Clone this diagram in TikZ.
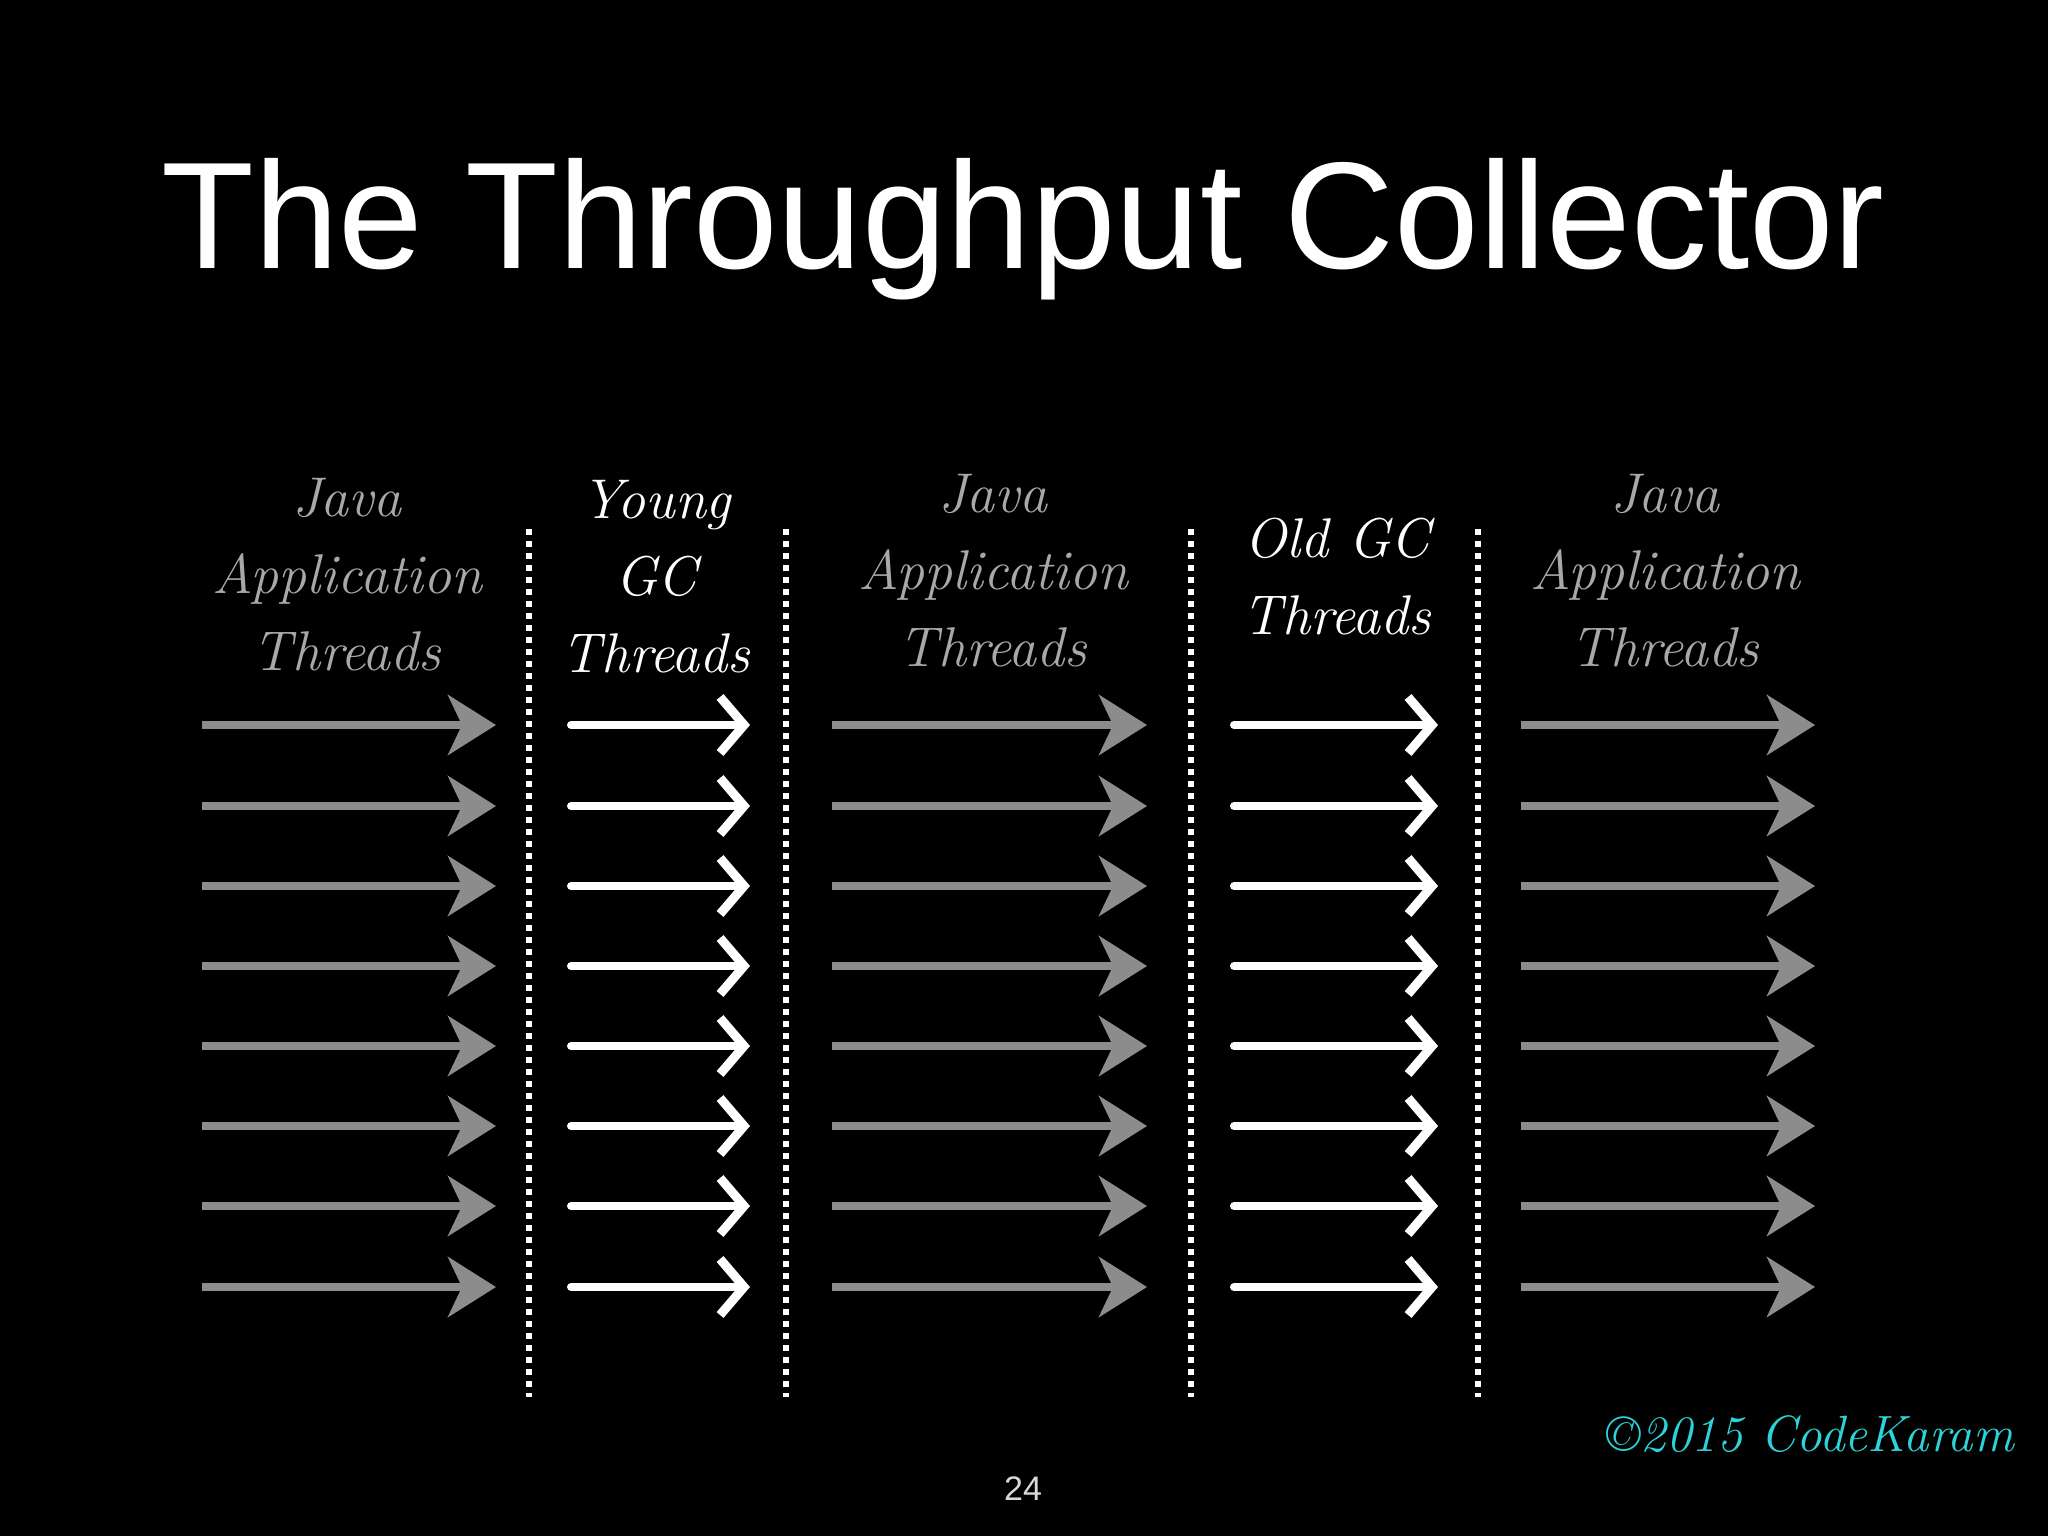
\documentclass[tikz,border=0pt]{standalone}
\usepackage{fontspec}
\setsansfont{Liberation Sans}
\usetikzlibrary{arrows.meta}
\definecolor{chalkgray}{HTML}{8C8C8C}
\definecolor{labelgray}{HTML}{A8A8A8}
\definecolor{cyanmark}{HTML}{2CD3D8}
\begin{document}
\begin{tikzpicture}[x=0.5pt,y=-0.5pt,
  graya/.style={draw=chalkgray,line width=4pt,-{Stealth[length=24pt,width=30pt,inset=7pt]}},
  whitea/.style={draw=white,line width=4pt,line cap=round,-{Straight Barb[length=12pt,width=28pt,line width=4.5pt]}},
  divider/.style={draw=white,line width=3pt,dash pattern=on 3pt off 3pt},
  lab/.style={font=\rmfamily\itshape\fontsize{28}{38.5}\selectfont,align=center,inner sep=0pt},
  grylab/.style={lab,text=labelgray},
  whtlab/.style={lab,text=white}]
\fill[black] (0,0) rectangle (2048,1536);
\useasboundingbox (0,0) rectangle (2048,1536);
% title
\node[anchor=base,text=white,font=\sffamily\fontsize{76}{90}\selectfont,inner sep=0pt] (title) at (1023,268) {The Throughput Collector};
% labels
\node[grylab] (l1) at (347,575) {Java\\Application\\Threads};
\node[whtlab] (l2) at (656,577) {Young\\GC\\Threads};
\node[grylab] (l3) at (993,571) {Java\\Application\\Threads};
\node[whtlab] (l4) at (1337,577) {Old GC\\Threads};
\node[grylab] (l5) at (1665,571) {Java\\Application\\Threads};
% dividers
\foreach \k/\x in {1/529,2/786,3/1191,4/1478}{
  \coordinate (d\k t) at (\x,529);
  \coordinate (d\k b) at (\x,1397);
  \draw[divider] (d\k t) -- (d\k b);
}
% arrows
\foreach \i/\y in {1/725,2/806,3/886,4/966,5/1046,6/1126,7/1206,8/1287}{
  \coordinate (a\i s) at (202,\y);  \coordinate (a\i e) at (496,\y);
  \coordinate (b\i s) at (571,\y);  \coordinate (b\i e) at (750,\y);
  \coordinate (c\i s) at (832,\y);  \coordinate (c\i e) at (1147,\y);
  \coordinate (e\i s) at (1234,\y); \coordinate (e\i e) at (1438,\y);
  \coordinate (f\i s) at (1521,\y); \coordinate (f\i e) at (1815,\y);
  \draw[graya] (a\i s) -- (a\i e);
  \draw[whitea] (b\i s) -- (b\i e);
  \draw[graya] (c\i s) -- (c\i e);
  \draw[whitea] (e\i s) -- (e\i e);
  \draw[graya] (f\i s) -- (f\i e);
}
% footer
\node[text=white!85!black,font=\sffamily\fontsize{17}{20}\selectfont] (page) at (1023,1489) {24};
\node[text=cyanmark,font=\rmfamily\itshape\fontsize{25.5}{30}\selectfont] (copy) at (1810,1434) {\textcopyright2015 CodeKaram};
\end{tikzpicture}
\end{document}
